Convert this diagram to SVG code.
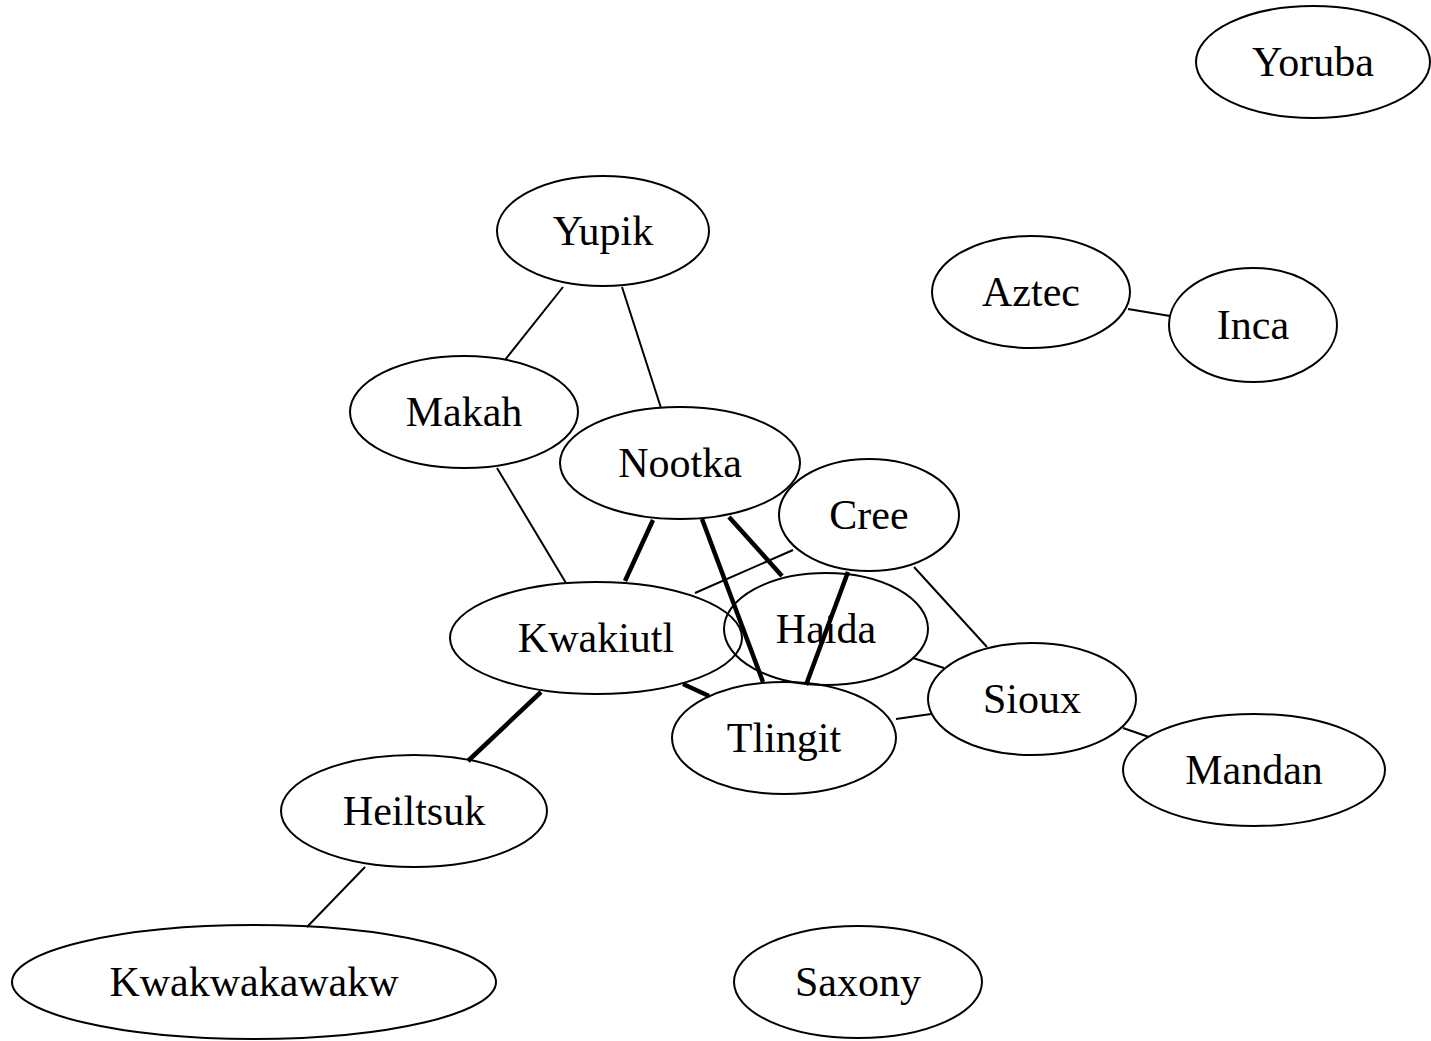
<svg xmlns="http://www.w3.org/2000/svg" width="1431" height="1041" viewBox="0 0 1431 1041">
<style>
.n ellipse{fill:none;stroke:#000;stroke-width:2}
.n text{font-family:"Liberation Serif","Times New Roman",serif;font-size:42px;fill:#000;text-anchor:middle}
.e line{stroke:#000;stroke-width:2;stroke-linecap:butt}
.e line.t{stroke-width:4.5}
</style>
<rect width="1431" height="1041" fill="#fff"/>
<g id="edges" class="e">
<line x1="563" y1="287" x2="505" y2="360"/>
<line x1="622" y1="287" x2="661" y2="408"/>
<line x1="497" y1="468" x2="566" y2="583"/>
<line class="t" x1="653" y1="520" x2="625" y2="581"/>
<line class="t" x1="702" y1="519" x2="763" y2="682"/>
<line class="t" x1="729" y1="517" x2="782" y2="576"/>
<line x1="793" y1="550" x2="695" y2="593"/>
<line class="t" x1="848" y1="572" x2="806" y2="685"/>
<line x1="914" y1="567" x2="987" y2="647"/>
<line x1="913" y1="658" x2="944" y2="668"/>
<line x1="896" y1="719" x2="931" y2="714"/>
<line x1="1123" y1="728" x2="1149" y2="737"/>
<line class="t" x1="683" y1="684" x2="709" y2="696"/>
<line class="t" x1="541" y1="692" x2="468" y2="761"/>
<line x1="365" y1="867" x2="307" y2="927"/>
<line x1="1128" y1="309" x2="1170" y2="316"/>
</g>
<g id="Yoruba" class="n"><ellipse cx="1313" cy="62" rx="117" ry="56"/><text x="1313" y="76">Yoruba</text></g>
<g id="Yupik" class="n"><ellipse cx="603" cy="231" rx="106" ry="55"/><text x="603" y="245">Yupik</text></g>
<g id="Aztec" class="n"><ellipse cx="1031" cy="292" rx="99" ry="56"/><text x="1031" y="306">Aztec</text></g>
<g id="Inca" class="n"><ellipse cx="1253" cy="325" rx="84" ry="57"/><text x="1253" y="339">Inca</text></g>
<g id="Makah" class="n"><ellipse cx="464" cy="412" rx="114" ry="56"/><text x="464" y="426">Makah</text></g>
<g id="Nootka" class="n"><ellipse cx="680" cy="463" rx="120" ry="56"/><text x="680" y="477">Nootka</text></g>
<g id="Cree" class="n"><ellipse cx="869" cy="515" rx="90" ry="56"/><text x="869" y="529">Cree</text></g>
<g id="Kwakiutl" class="n"><ellipse cx="596" cy="638" rx="146" ry="56"/><text x="596" y="652">Kwakiutl</text></g>
<g id="Haida" class="n"><ellipse cx="826" cy="629" rx="102" ry="56"/><text x="826" y="643">Haida</text></g>
<g id="Tlingit" class="n"><ellipse cx="784" cy="738" rx="112" ry="56"/><text x="784" y="752">Tlingit</text></g>
<g id="Sioux" class="n"><ellipse cx="1032" cy="699" rx="104" ry="56"/><text x="1032" y="713">Sioux</text></g>
<g id="Mandan" class="n"><ellipse cx="1254" cy="770" rx="131" ry="56"/><text x="1254" y="784">Mandan</text></g>
<g id="Heiltsuk" class="n"><ellipse cx="414" cy="811" rx="133" ry="56"/><text x="414" y="825">Heiltsuk</text></g>
<g id="Kwakwakawakw" class="n"><ellipse cx="254" cy="982" rx="242" ry="57"/><text x="254" y="996">Kwakwakawakw</text></g>
<g id="Saxony" class="n"><ellipse cx="858" cy="982" rx="124" ry="56"/><text x="858" y="996">Saxony</text></g>
</svg>
